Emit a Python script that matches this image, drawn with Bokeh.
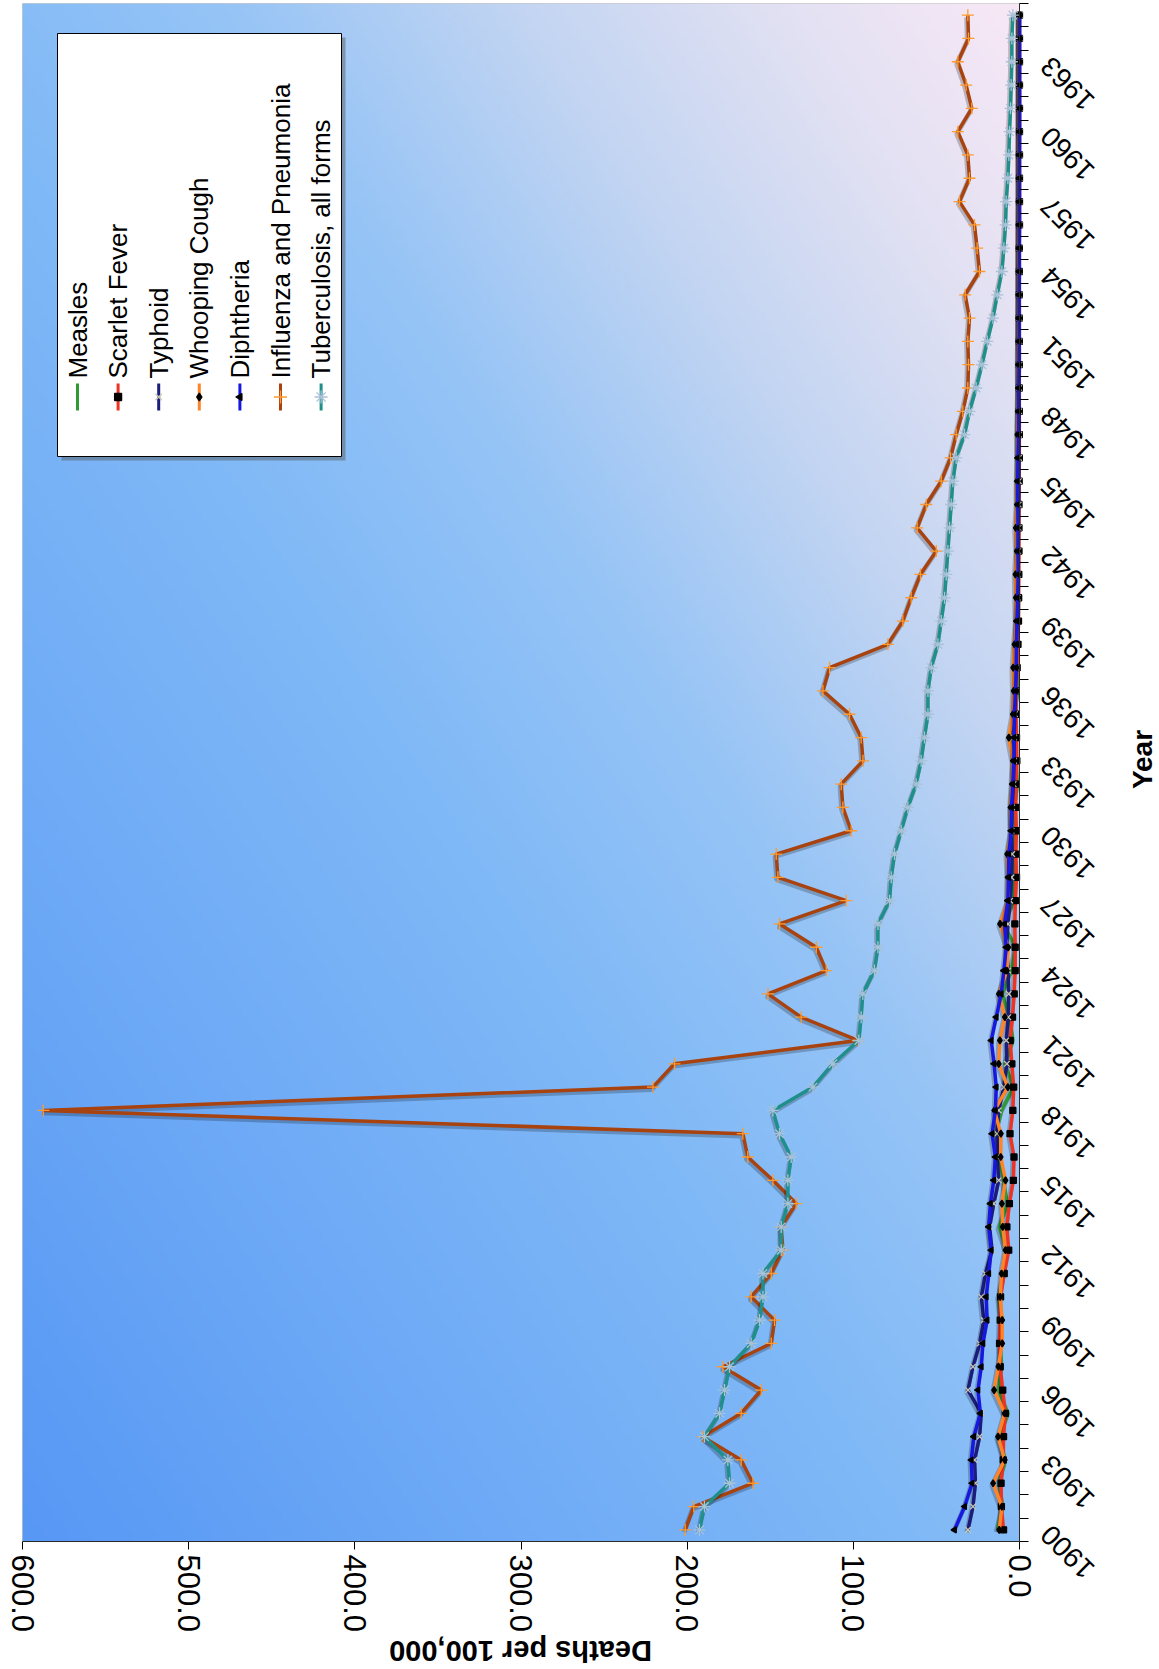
import numpy as np
from math import pi
from bokeh.plotting import figure
from bokeh.models import Range1d, FixedTicker, NumeralTickFormatter, ColumnDataSource, BoxAnnotation
from bokeh.core.properties import value
from bokeh.transform import dodge
from bokeh.embed import file_html
from bokeh.resources import INLINE

# ---------------- data ----------------
years = list(range(1900, 1966))

measles = [13.3, 10.0, 12.3, 8.4, 12.3, 6.8, 12.7, 10.8, 11.4, 10.6,
           12.4, 9.4, 7.6, 12.2, 7.3, 9.6, 12.1, 14.2, 10.7, 3.6,
           8.8, 3.9, 5.8, 10.4, 4.9, 2.3, 9.6, 3.2, 3.9, 3.0,
           3.2, 3.0, 1.2, 2.2, 5.0, 3.0, 0.9, 1.6, 2.3, 0.8,
           0.5, 1.5, 0.7, 1.0, 0.5, 0.2, 0.1, 0.2, 0.4, 0.2,
           0.2, 0.4, 0.4, 0.3, 0.3, 0.2, 0.3, 0.2, 0.3, 0.2,
           0.2, 0.2, 0.2, 0.2, 0.2, 0.1]
scarlet_fever = [9.6, 10.9, 11.1, 9.8, 9.6, 8.5, 10.1, 11.6, 12.0, 11.6,
                 11.4, 9.2, 6.5, 7.6, 6.1, 3.7, 3.3, 5.7, 4.0, 3.5,
                 4.6, 5.6, 4.2, 3.2, 2.6, 2.6, 2.8, 2.5, 1.8, 2.2,
                 1.9, 2.3, 2.1, 1.6, 1.8, 2.1, 2.0, 1.4, 0.9, 0.6,
                 0.5, 0.4, 0.3, 0.3, 0.3, 0.2, 0.1, 0.1, 0.1, 0.1,
                 0.1, 0.1, 0.1, 0.1, 0.1, 0.1, 0.0, 0.0, 0.0, 0.0,
                 0.0, 0.0, 0.0, 0.0, 0.0, 0.0]
typhoid = [31.0, 28.0, 26.5, 27.0, 24.0, 23.0, 31.0, 28.0, 24.0, 21.5,
           23.0, 20.5, 16.5, 18.0, 15.5, 12.5, 13.5, 13.5, 12.5, 9.5,
           7.6, 8.0, 6.8, 6.5, 6.8, 7.8, 6.9, 5.6, 4.8, 4.4,
           4.8, 4.5, 3.6, 3.3, 3.2, 2.8, 2.5, 2.1, 1.9, 1.5,
           1.1, 0.9, 0.8, 0.6, 0.5, 0.4, 0.3, 0.3, 0.2, 0.2,
           0.1, 0.1, 0.1, 0.1, 0.1, 0.1, 0.0, 0.0, 0.0, 0.0,
           0.0, 0.0, 0.0, 0.0, 0.0, 0.0]
whooping_cough = [12.2, 10.6, 15.9, 8.9, 12.9, 8.9, 15.3, 12.7, 10.4, 10.4,
                  11.6, 10.8, 8.4, 10.1, 10.6, 8.4, 11.3, 11.2, 15.1, 7.0,
                  12.5, 11.8, 8.8, 12.4, 7.6, 6.8, 11.7, 6.9, 6.8, 7.4,
                  4.8, 5.3, 4.4, 3.8, 6.4, 4.0, 3.5, 3.8, 3.0, 1.9,
                  2.2, 2.4, 1.6, 2.2, 1.4, 1.3, 0.9, 1.2, 0.8, 0.5,
                  0.7, 0.5, 0.3, 0.2, 0.3, 0.3, 0.2, 0.1, 0.1, 0.2,
                  0.1, 0.1, 0.1, 0.1, 0.1, 0.1]
diphtheria = [39.1, 33.0, 28.5, 29.0, 27.5, 23.5, 25.0, 23.0, 22.0, 19.5,
              20.0, 18.5, 17.0, 18.5, 17.5, 15.5, 14.5, 16.5, 14.5, 14.0,
              15.3, 17.0, 14.0, 11.0, 9.4, 8.0, 9.0, 7.0, 6.6, 6.4,
              5.0, 4.8, 4.0, 3.4, 3.3, 3.1, 2.4, 2.0, 1.8, 1.5,
              1.1, 0.8, 0.9, 0.9, 1.0, 1.1, 0.9, 0.6, 0.5, 0.4,
              0.3, 0.2, 0.2, 0.2, 0.1, 0.1, 0.1, 0.1, 0.1, 0.1,
              0.0, 0.0, 0.0, 0.0, 0.0, 0.0]
influenza_pneumonia = [201.2, 196.0, 160.4, 167.5, 190.6, 167.5, 155.4, 178.5, 149.4, 147.4,
                       161.5, 149.4, 142.4, 143.4, 134.4, 148.4, 163.5, 166.5, 587.5, 220.6,
                       207.6, 97.3, 131.4, 151.4, 116.3, 122.3, 144.4, 104.3, 145.4, 146.4,
                       101.3, 106.3, 107.3, 94.2, 95.3, 102.3, 118.3, 114.3, 79.2, 70.2,
                       65.2, 59.6, 50.1, 61.6, 56.1, 47.1, 41.5, 38.1, 34.1, 31.1,
                       30.7, 31.1, 30.1, 32.7, 24.1, 25.5, 27.1, 36.1, 30.1, 31.1,
                       37.1, 28.7, 32.1, 37.1, 30.7, 31.1]
tuberculosis = [192.6, 189.6, 174.5, 175.5, 189.6, 180.5, 177.5, 174.5, 161.5, 156.5,
                154.4, 154.4, 143.4, 143.4, 139.4, 139.4, 137.4, 144.4, 148.4, 124.3,
                112.3, 96.7, 95.3, 94.3, 87.3, 85.2, 85.2, 78.2, 77.2, 75.2,
                71.2, 67.2, 62.2, 59.2, 57.2, 55.1, 55.1, 53.1, 49.1, 47.1,
                45.1, 44.1, 43.1, 42.1, 41.1, 40.1, 38.1, 33.1, 30.1, 26.1,
                22.6, 19.4, 16.0, 13.4, 10.6, 9.4, 8.4, 8.0, 7.0, 6.4,
                6.0, 5.4, 5.0, 4.6, 4.6, 4.0]

series_names = ["Measles", "Scarlet Fever", "Typhoid", "Whooping Cough",
                "Diphtheria", "Influenza and Pneumonia", "Tuberculosis, all forms"]
value_ticks = [0, 100, 200, 300, 400, 500, 600]
year_ticks = list(range(1900, 1966, 3))
x_title = "Deaths per 100,000"
y_title = "Year"

# ---------------- layout ----------------
PAGE_W, PAGE_H = 1159, 1669
PLOT_L, PLOT_T = 22, 3            # page position of the plot area (value 600, last year)
PLOT_W, PLOT_H = 997, 1538
VMAX = 600
Y0, Y1 = 1899.5, 1965.5
FONT = "Liberation Sans"

PX_R = PLOT_L + PLOT_W            # page x of value 0
PY_B = PLOT_T + PLOT_H            # page y of the value axis
def vx(px):
    return VMAX * (PX_R - px) / PLOT_W
def yy(py):
    return Y0 + (PY_B - py) / PLOT_H * (Y1 - Y0)

# one figure whose frame covers the page; both axes are drawn at fixed locations
p = figure(width=PAGE_W, height=PAGE_H,
           x_range=Range1d(vx(0), vx(PAGE_W)), y_range=Range1d(yy(PAGE_H), yy(0)),
           x_axis_location="below", y_axis_location="left",
           output_backend="svg", toolbar_location=None, min_border=0)
p.grid.visible = False
p.outline_line_color = None
p.background_fill_color = "white"
p.border_fill_color = "white"

# gradient background of the plot area (style only)
NC, NR = 200, 320
vals = np.linspace(0, VMAX, NC)
yrs = np.linspace(Y0, Y1, NR)
A = 1 - vals[None, :] / VMAX
B = (yrs[:, None] - Y0) / (Y1 - Y0)
T = (A + B) / 2
stops = [0.0, 0.45, 0.6, 0.75, 0.88, 1.0]
cols = np.array([[88, 152, 245], [128, 185, 247], [150, 196, 246],
                 [195, 213, 242], [226, 225, 243], [248, 232, 246]], dtype=float)
rgb = np.stack([np.interp(T, stops, cols[:, k]) for k in range(3)], axis=-1)
img = np.empty((NR, NC), dtype=np.uint32)
view = img.view(dtype=np.uint8).reshape((NR, NC, 4))
for k in range(3):
    view[:, :, k] = rgb[:, :, k].astype(np.uint8)
view[:, :, 3] = 255
p.image_rgba(image=[img], x=0, y=Y0, dw=VMAX, dh=Y1 - Y0)
p.add_layout(BoxAnnotation(left=0, right=VMAX, bottom=Y0, top=Y1,
                           fill_color=None, line_color="#8a8a8a", line_width=1))

styles = [
    (measles, "#2f9a35", None, 0, None, None, 0),
    (scarlet_fever, "#ee3322", "square", 6, "black", "black", 0),
    (typhoid, "#1c1c7a", "x", 8, None, "#c9c6b0", 0),
    (whooping_cough, "#ff8428", "diamond", 7, "black", "black", 0),
    (diphtheria, "#1717e0", "triangle", 6, "black", "black", pi / 2),
    (influenza_pneumonia, "#a8420f", "cross", 12, None, "#ff9a2e", 0),
    (tuberculosis, "#1f8f8a", "asterisk", 12, None, "#a8c2d8", 0),
]

for data, lc, mk, ms, mf, ml, ang in styles:
    src = ColumnDataSource(dict(year=years, v=data))
    p.line(x=dodge("v", 0.7, range=p.x_range), y=dodge("year", -0.1, range=p.y_range),
           source=src, line_color="black", line_alpha=0.22, line_width=5)
    p.line(x="v", y="year", source=src, line_color=lc, line_width=3.5)
    if mk:
        p.scatter(x="v", y="year", source=src, marker=mk, size=ms,
                  fill_color=mf, line_color=ml, line_width=1.3, angle=ang)

# ---------------- legend (rotated) ----------------
p.quad(left=vx(61), right=vx(345), top=yy(37), bottom=yy(460),
       fill_color="#555555", fill_alpha=0.45, line_color=None)
p.quad(left=vx(57), right=vx(341), top=yy(33), bottom=yy(456),
       fill_color="white", line_color="black", line_width=1)
for i, (name, st) in enumerate(zip(series_names, styles)):
    data, lc, mk, ms, mf, ml, ang = st
    cx = 77 + 40.6 * i
    p.segment(x0=[vx(cx)], y0=[yy(383)], x1=[vx(cx)], y1=[yy(410)],
              line_color=lc, line_width=3)
    if mk:
        p.scatter(x=[vx(cx)], y=[yy(396.5)], marker=mk, size=ms + 1,
                  fill_color=mf, line_color=ml, line_width=1.3, angle=ang)
    p.text(x=[vx(cx)], y=[yy(378)], text=[name], angle=pi / 2,
           text_align="left", text_baseline="middle",
           text_font=value(FONT), text_font_size="26px", text_color="black")

# ---------------- value axis, drawn along the first category edge ----------------
xa = p.xaxis[0]
xa.fixed_location = Y0
xa.bounds = (0, VMAX)
xa.ticker = FixedTicker(ticks=value_ticks)
xa.formatter = NumeralTickFormatter(format="0.0")
xa.major_label_orientation = "vertical"
xa.major_label_text_font = FONT
xa.major_label_text_font_size = "31px"
xa.major_label_text_color = "black"
xa.major_label_standoff = 5
xa.major_tick_out = 8
xa.major_tick_in = 0
xa.minor_tick_line_color = None
xa.axis_line_color = "black"
xa.major_tick_line_color = "black"

# ---------------- year axis, drawn at value 0 ----------------
ya = p.yaxis[0]
ya.fixed_location = 0
ya.bounds = (Y0, Y1)
ya.ticker = FixedTicker(ticks=year_ticks, minor_ticks=[Y0 + i for i in range(67)])
ya.major_label_orientation = 3 * pi / 4
ya.major_label_standoff = -26
ya.major_label_text_font = FONT
ya.major_label_text_font_size = "28px"
ya.major_label_text_color = "black"
ya.major_tick_out = 0
ya.major_tick_in = 0
ya.minor_tick_out = 0
ya.minor_tick_in = 9
ya.minor_tick_line_color = "black"
ya.axis_line_color = "black"

# ---------------- axis titles ----------------
p.text(x=[vx(1142)], y=[yy(759)], text=[y_title], angle=pi / 2,
       text_align="center", text_baseline="middle",
       text_font=value(FONT), text_font_size="28px", text_font_style="bold",
       text_color="black")
p.text(x=[vx(520)], y=[yy(1650)], text=[x_title], angle=pi,
       text_align="center", text_baseline="middle",
       text_font=value(FONT), text_font_size="29px", text_font_style="bold",
       text_color="black")

open("out.html", "w").write(file_html(p, INLINE))
